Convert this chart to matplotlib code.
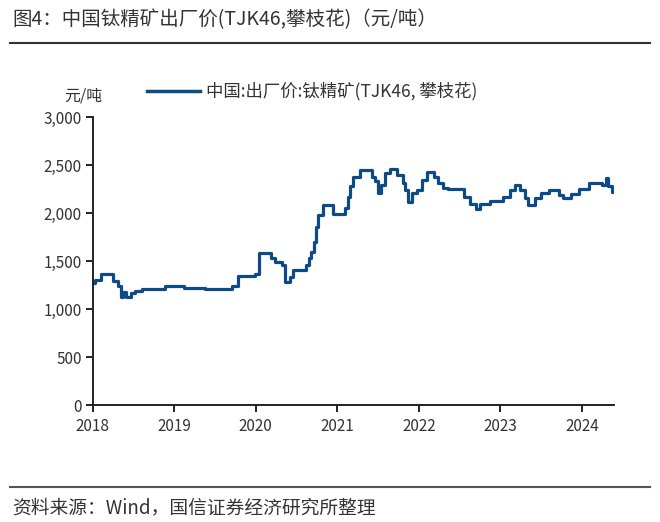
import matplotlib
matplotlib.use("Agg")
import matplotlib.pyplot as plt
import pandas as pd
from matplotlib.lines import Line2D

plt.rcParams['font.family'] = ['Noto Sans CJK SC', 'DejaVu Sans']

title = "图4：中国钛精矿出厂价(TJK46,攀枝花)（元/吨）"
series_name = "中国:出厂价:钛精矿(TJK46, 攀枝花)"
unit_label = "元/吨"
source = "资料来源：Wind，国信证券经济研究所整理"

dates = ["2018-01-01", "2018-01-12", "2018-02-06", "2018-04-01", "2018-04-22",
         "2018-05-08", "2018-05-18", "2018-06-01", "2018-06-20", "2018-07-08",
         "2018-08-08", "2018-11-20", "2019-02-15", "2019-05-18", "2019-09-15",
         "2019-10-12", "2019-12-28", "2020-01-18", "2020-03-08", "2020-03-28",
         "2020-04-28", "2020-05-10", "2020-06-02", "2020-06-18", "2020-08-12",
         "2020-08-28", "2020-09-05", "2020-09-16", "2020-09-25", "2020-10-08",
         "2020-10-28", "2020-12-12", "2021-02-06", "2021-02-16", "2021-02-28",
         "2021-03-10", "2021-04-12", "2021-06-05", "2021-06-20", "2021-07-02",
         "2021-07-14", "2021-08-04", "2021-08-26", "2021-09-24", "2021-10-20",
         "2021-10-30", "2021-11-12", "2021-12-02", "2021-12-24", "2022-01-16",
         "2022-02-06", "2022-03-08", "2022-03-28", "2022-04-20", "2022-05-12",
         "2022-07-06", "2022-07-22", "2022-08-18", "2022-09-12", "2022-10-01",
         "2022-11-16", "2023-01-14", "2023-02-14", "2023-03-08", "2023-04-01",
         "2023-04-20", "2023-05-05", "2023-06-06", "2023-07-01", "2023-08-05",
         "2023-09-22", "2023-10-08", "2023-11-14", "2023-12-18", "2024-02-02",
         "2024-04-01", "2024-04-20", "2024-04-27", "2024-05-14", "2024-05-24"]
prices = [1270, 1300, 1370, 1290, 1240,
          1130, 1180, 1125, 1165, 1190,
          1205, 1245, 1215, 1205, 1240,
          1345, 1365, 1580, 1530, 1495,
          1460, 1285, 1340, 1410, 1460,
          1530, 1600, 1700, 1860, 1980,
          2085, 1990, 2050, 2170, 2280,
          2380, 2450, 2380, 2340, 2210,
          2290, 2415, 2457, 2400, 2310,
          2240, 2120, 2210, 2240, 2345,
          2433, 2380, 2310, 2260, 2250,
          2255, 2170, 2100, 2040, 2100,
          2130, 2170, 2240, 2295, 2240,
          2155, 2085, 2155, 2215, 2240,
          2190, 2155, 2195, 2255, 2310,
          2295, 2365, 2280, 2225, 2225]
year_ticks = ["2018", "2019", "2020", "2021", "2022", "2023", "2024"]
y_ticks = [0, 500, 1000, 1500, 2000, 2500, 3000]

x = pd.to_datetime(dates)

fig = plt.figure(figsize=(6.6, 5.22), dpi=100)
ax = fig.add_axes([0.1405, 0.2241, 0.7905, 0.5512])

color = "#0d4a86"
ax.plot(x, prices, drawstyle="steps-post", color=color, lw=2.3)

ax.set_ylim(0, 3000)
ax.set_xlim(pd.Timestamp("2018-01-01"), pd.Timestamp("2024-05-26"))
ax.set_yticks(y_ticks)
ax.set_yticklabels([f"{v:,}" for v in y_ticks])
ax.set_xticks(pd.to_datetime([f"{y}-01-01" for y in year_ticks]))
ax.set_xticklabels(year_ticks)

for s in ["top", "right"]:
    ax.spines[s].set_visible(False)
for s in ["left", "bottom"]:
    ax.spines[s].set_linewidth(1.4)
    ax.spines[s].set_color("#222222")
ax.tick_params(axis="both", direction="out", length=5, width=1.4, colors="#222222",
               labelsize=11, labelcolor="#333333")
ax.tick_params(axis="x", pad=4)
ax.tick_params(axis="y", pad=3)

# unit label
fig.text(64/660, 1-96/522, unit_label, fontsize=11.5, color="#333333", va="center", ha="left")

# legend line + text
fig.add_artist(Line2D([147/660, 200/660], [1-91/522, 1-91/522], color=color, lw=2.5))
fig.text(206/660, 1-91/522, series_name, fontsize=12.5, color="#333333", va="center", ha="left")

# title
fig.text(12/660, 1-20/522, title, fontsize=14, color="#333333", va="center", ha="left")
fig.add_artist(Line2D([10/660, 650/660], [1-43/522, 1-43/522], color="#333333", lw=1.5))

# source
fig.add_artist(Line2D([10/660, 650/660], [1-487/522, 1-487/522], color="#555555", lw=1.5))
fig.text(12/660, 1-508/522, source, fontsize=13.5, color="#333333", va="center", ha="left")

fig.savefig("out.png", dpi=100)
